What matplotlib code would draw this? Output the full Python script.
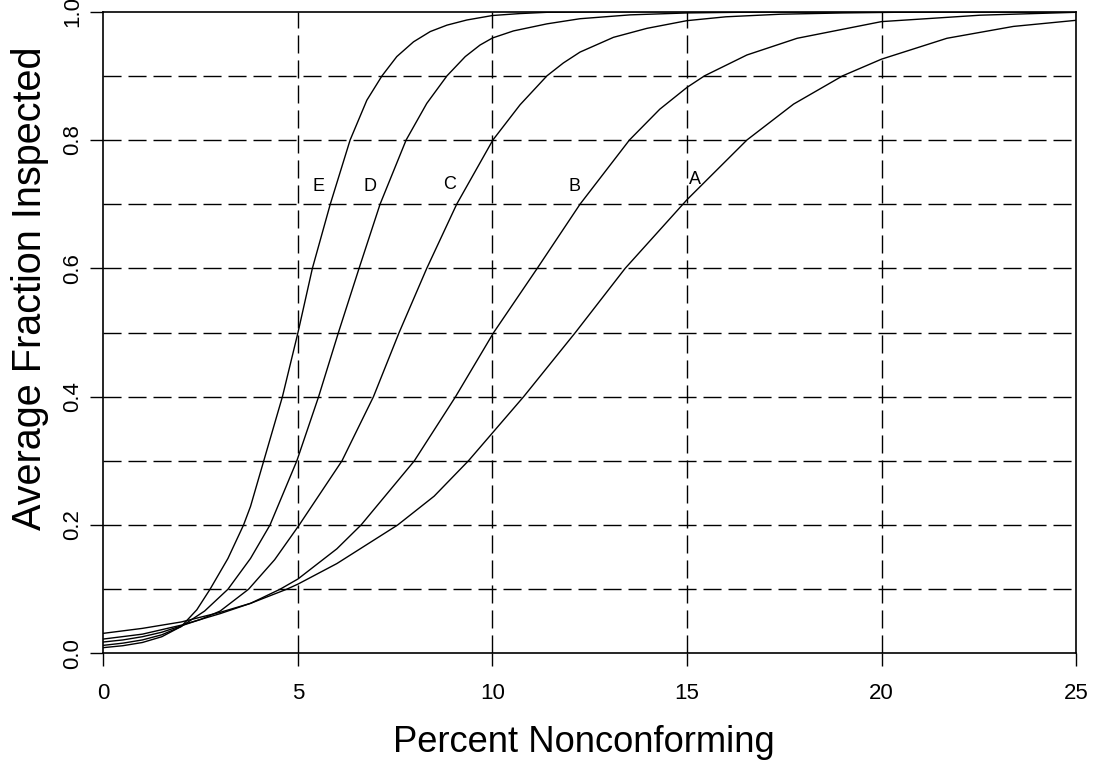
import matplotlib
matplotlib.use("Agg")
import matplotlib.pyplot as plt

plt.rcParams['font.family'] = ['Liberation Sans', 'DejaVu Sans']

# Average fraction inspected for five sampling plans, A..E
E_x = [0, 0.5, 1, 1.5, 2, 2.4, 2.74, 3.2, 3.6, 3.78, 4.12, 4.6, 5.0, 5.37, 5.83, 6.34, 6.77,
       7.16, 7.54, 7.97, 8.4, 8.83, 9.34, 10, 10.7, 11.4, 12.5, 14, 25]
E_y = [0.009, 0.012, 0.017, 0.026, 0.042, 0.068, 0.1, 0.148, 0.2, 0.229, 0.3, 0.4, 0.5, 0.6,
       0.7, 0.8, 0.862, 0.9, 0.930, 0.953, 0.969, 0.979, 0.987, 0.994, 0.997, 0.999, 0.9997,
       1.0, 1.0]

D_x = [0, 0.5, 1, 1.5, 2, 2.6, 3.2, 3.78, 4.28, 4.97, 5.53, 6.04, 6.57, 7.11, 7.78, 8.31,
       8.83, 9.3, 9.68, 10, 10.54, 11.4, 12.25, 13.54, 15, 17, 25]
D_y = [0.0126, 0.016, 0.021, 0.029, 0.042, 0.066, 0.1, 0.148, 0.2, 0.3, 0.4, 0.5, 0.6, 0.7,
       0.8, 0.857, 0.9, 0.930, 0.948, 0.959, 0.970, 0.981, 0.989, 0.995, 0.998, 0.9995, 1.0]

C_x = [0, 0.5, 1, 1.5, 2, 2.5, 3, 3.73, 4.4, 5.03, 6.13, 6.94, 7.6, 8.31, 9.08, 10.01, 10.71,
       11.4, 11.82, 12.25, 13.11, 13.97, 15, 16, 17.4, 19, 21, 25]
C_y = [0.0178, 0.021, 0.026, 0.033, 0.043, 0.053, 0.066, 0.1, 0.146, 0.2, 0.3, 0.4, 0.5, 0.6,
       0.7, 0.8, 0.855, 0.9, 0.92, 0.937, 0.960, 0.974, 0.986, 0.992, 0.996, 0.998, 0.9995,
       1.0]

B_x = [0, 1, 2, 3, 3.78, 4.54, 5, 6, 6.62, 7.99, 9.05, 10.03, 11.15, 12.25, 13.52, 14.3, 15,
       15.45, 16.54, 17.83, 20, 22.54, 25]
B_y = [0.0224, 0.030, 0.044, 0.062, 0.078, 0.1, 0.116, 0.163, 0.2, 0.3, 0.4, 0.5, 0.6, 0.7,
       0.8, 0.848, 0.882, 0.9, 0.9325, 0.9585, 0.9845, 0.9945, 0.999]

A_x = [0, 1, 2, 3, 3.78, 4.71, 5, 6, 7.56, 8.5, 9.38, 10.8, 12.13, 13.41, 15, 16.54, 17.74,
       19.0, 20, 21.68, 23.39, 25]
A_y = [0.0313, 0.039, 0.049, 0.064, 0.078, 0.1, 0.108, 0.14, 0.2, 0.245, 0.3, 0.4, 0.5, 0.6,
       0.707, 0.8, 0.856, 0.9, 0.926, 0.9585, 0.977, 0.9865]

curve_names = ['A', 'B', 'C', 'D', 'E']
label_x = [15.21, 12.11, 8.89, 6.84, 5.53]
label_y = [0.738, 0.727, 0.731, 0.727, 0.727]

x_ticks = [0, 5, 10, 15, 20, 25]
y_ticks = [0.0, 0.2, 0.4, 0.6, 0.8, 1.0]
x_grid = [5, 10, 15, 20]
y_grid = [0.1, 0.2, 0.3, 0.4, 0.5, 0.6, 0.7, 0.8, 0.9]

fig = plt.figure(figsize=(10.96, 7.67), dpi=100)
ax = fig.add_axes([0.0944, 0.1481, 0.8874, 0.8367])

dash = (13, 5)
for g in x_grid:
    ax.axvline(g, color='black', lw=1.0, dashes=dash, zorder=1)
for g in y_grid:
    ax.axhline(g, color='black', lw=1.0, dashes=dash, zorder=1)

for xs, ys in [(A_x, A_y), (B_x, B_y), (C_x, C_y), (D_x, D_y), (E_x, E_y)]:
    ax.plot(xs, ys, color='black', lw=1.0, zorder=2, solid_joinstyle='round')

for name, lx, ly in zip(curve_names, label_x, label_y):
    ax.text(lx, ly, name, fontsize=13, ha='center', va='center', zorder=3)

ax.set_xlim(0, 25)
ax.set_ylim(0, 1.0)
ax.set_xticks(x_ticks)
ax.set_xticklabels([str(t) for t in x_ticks])
ax.set_yticks(y_ticks)
ax.set_yticklabels(['%.1f' % t for t in y_ticks], rotation=90, va='center')
ax.tick_params(axis='both', direction='out', length=9.5, width=1.0, labelsize=16)
ax.tick_params(axis='x', pad=12)
ax.tick_params(axis='y', pad=5)
for sp in ax.spines.values():
    sp.set_linewidth(1.2)

fig.text(584 / 1096, 1 - 751.7 / 767, 'Percent Nonconforming',
         fontsize=26.2, ha='center', va='baseline')
fig.text(30 / 1096, 1 - 288 / 767, 'Average Fraction Inspected', fontsize=28.5,
         rotation=90, ha='center', va='center')

fig.savefig('out.png', dpi=100)
